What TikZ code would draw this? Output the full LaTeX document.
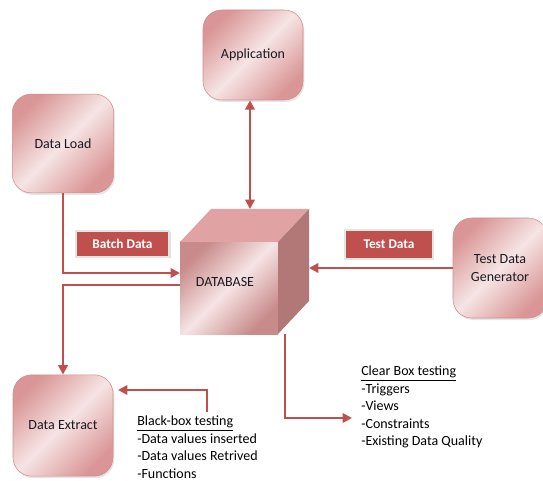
\documentclass[tikz,border=0pt]{standalone}
\usepackage{fontspec}
\setmainfont{Carlito}
\usepackage{tikz}
\usetikzlibrary{arrows.meta, calc, shadows}
\definecolor{myred}{RGB}{192,80,77}
\definecolor{boxlight}{RGB}{246,228,228}
\definecolor{boxdark}{RGB}{218,150,150}
\definecolor{boxline}{RGB}{206,142,142}
\definecolor{cubetop}{RGB}{224,162,162}
\definecolor{cubeside}{RGB}{178,120,120}
\definecolor{mydark}{RGB}{25,25,35}
\tikzset{
  unit/.style={rectangle, draw=boxline, top color=boxdark, bottom color=boxdark,
    middle color=boxlight, shading angle=45,
    align=center, rounded corners=14pt, line width=0.4pt, text=mydark,
    font=\fontsize{10.5}{13}\selectfont,
    drop shadow={shadow xshift=1pt, shadow yshift=-1.5pt, opacity=0.2}},
  tag/.style={rectangle, fill=myred, draw=black!10, line width=1.2pt,
    text=white, font=\fontsize{10}{12}\selectfont\bfseries,
    drop shadow={shadow xshift=1pt, shadow yshift=-1pt, opacity=0.25}},
  arrow/.style={-{Triangle[length=7pt, width=7pt]}, line width=2pt, color=myred},
  notes/.style={anchor=north west, align=left, inner sep=0pt, text=black,
    font=\fontsize{10.5}{13.1}\selectfont}
}

\begin{document}
\begin{tikzpicture}[x=0.75pt, y=-0.75pt,
  cubefront/.style={rectangle, top color=boxdark!92!black, bottom color=boxdark!92!black,
    middle color=boxlight, shading angle=45,
    minimum width=73.5pt, minimum height=69pt, outer sep=0pt, text=mydark,
    font=\fontsize{10.5}{13}\selectfont}
]
\useasboundingbox (0,0) rectangle (543,481);

%--- BOXES ---
\node[unit, minimum width=75pt, minimum height=67.5pt] (app) at (253,55) {Application};
\node[unit, minimum width=76pt, minimum height=74pt] (load) at (63,143.5) {Data Load};
\node[unit, minimum width=75pt, minimum height=76pt] (extract) at (63,425.5) {Data Extract};
\node[unit, minimum width=70.5pt, minimum height=75pt] (gen) at (500,268) {Test Data\\Generator};

%--- DATABASE cube ---
\node[cubefront] (db) at (229,288) {};
\fill[cubetop] (db.north west) -- ++(31,-33) -- ($(db.north east)+(31,-33)$) -- (db.north east) -- cycle;
\fill[cubeside] (db.north east) -- ++(31,-33) -- ($(db.south east)+(31,-33)$) -- (db.south east) -- cycle;
\node[font=\fontsize{10.5}{13}\selectfont, text=mydark] (dblbl) at (225,282) {DATABASE};

% connector ends on the cube
\coordinate (tb) at (250,209);
\coordinate (dbin) at (180,273);
\coordinate (dbout) at (180,285);
\coordinate (dbside) at (309,268);
\coordinate (dbbot) at (285,334);
\coordinate (cbin) at (352,418);
\coordinate (bbout) at (207,412);
\coordinate (bbin) at (118,390);

%--- TAGS ---
\node[tag, minimum width=70pt, minimum height=19.5pt] (batch) at (122.5,244) {Batch Data};
\node[tag, minimum width=66pt, minimum height=21.5pt] (test) at (389,244.5) {Test Data};

%--- NOTES ---
\node[notes] (clear) at (361,366) {\underline{Clear Box testing}\\-Triggers\\-Views\\-Constraints\\-Existing Data Quality};
\node[notes] (black) at (137,416) {\underline{Black-box testing}\\-Data values inserted\\-Data values Retrived\\-Functions};

%--- ARROWS ---
\draw[arrow, {Triangle[length=7pt, width=7pt]}-{Triangle[length=7pt, width=7pt]}] (app.south -| tb) -- (tb);
\draw[arrow] (load.south) |- (dbin);
\draw[arrow] (dbout) -| (extract.north);
\draw[arrow] (gen.west) -- (dbside);
\draw[arrow] (dbbot) |- (cbin);
\draw[arrow] (bbout) |- (bbin);
\end{tikzpicture}
\end{document}
